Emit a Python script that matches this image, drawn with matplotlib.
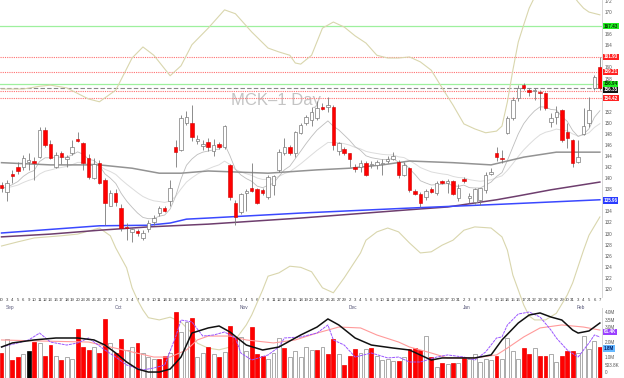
import matplotlib
matplotlib.use("Agg")
import matplotlib.pyplot as plt
import numpy as np
import pandas as pd

# ---------------- data ----------------
day_numbers = [30,
    3,4,5,6,9,10,11,12,13,16,17,18,19,20,23,24,25,26,27,30,
    1,2,3,4,7,8,9,10,11,14,15,16,17,18,21,22,23,24,25,28,29,30,31,
    1,4,5,6,7,8,11,12,13,14,15,18,19,20,21,22,25,26,27,29,
    2,3,4,5,6,9,10,11,12,13,16,17,18,19,20,23,24,26,27,30,31,
    2,3,6,7,8,9,10,13,14,15,16,17,21,22,23,24,27,28,29,30,31,
    3,4,5,6,7]
month_names = ["Sep", "Oct", "Nov", "Dec", "Jan", "Feb"]
month_start_bars = [1, 21, 44, 64, 85, 106]

opens = [138.8,137.5,140.8,142.0,142.0,142.9,143.1,143.8,148.7,146.2,
         142.0,144.5,143.5,144.5,147.1,146.4,143.6,140.0,142.7,139.7,
         135.0,137.3,134.6,131.2,130.3,130.5,129.2,130.8,132.1,133.7,
         134.6,135.9,145.6,145.1,150.0,150.0,146.7,145.8,146.5,144.9,
         146.2,145.6,142.4,135.5,133.9,137.3,138.2,138.0,137.9,136.6,
         138.8,141.5,144.5,145.6,144.5,148.1,150.0,150.5,150.9,152.9,
         152.9,152.9,144.9,145.3,144.5,142.0,142.0,142.7,142.3,142.4,
         142.6,143.1,143.5,142.9,140.6,141.8,137.7,137.2,136.6,138.0,
         137.3,139.5,139.1,139.5,136.4,139.9,136.4,135.7,136.1,137.9,
         140.8,144.5,143.7,148.2,150.9,154.5,156.8,155.9,155.7,155.5,
         155.4,150.2,151.0,152.3,148.3,146.9,142.9,148.0,149.9,156.3,
         160.1]
highs = [139.3,139.6,141.5,142.9,144.2,144.5,143.8,149.2,149.2,146.9,
         144.7,144.9,144.2,146.9,148.3,146.5,144.4,143.6,143.3,140.0,
         137.8,138.1,135.3,131.9,131.2,130.9,130.7,132.5,133.3,135.0,
         134.9,139.6,146.9,151.5,152.2,153.2,147.8,146.9,147.2,147.0,
         146.5,149.6,142.6,136.1,137.4,138.1,142.8,138.3,138.3,140.6,
         140.6,145.3,147.2,146.0,148.5,149.9,151.5,152.9,154.0,153.5,
         154.6,153.2,146.5,145.6,144.6,142.6,143.3,143.1,143.1,143.3,
         143.4,144.0,144.7,143.3,143.0,142.0,138.1,137.5,138.1,138.4,
         139.5,139.7,139.9,139.7,139.0,140.3,137.3,138.2,138.2,141.1,
         141.8,145.7,145.1,151.3,154.6,156.8,157.2,156.3,156.3,155.9,
         155.6,151.8,153.0,152.5,150.0,147.0,146.9,152.7,154.6,158.7,
         161.9]
lows = [137.5,135.8,139.1,140.8,141.5,141.5,139.7,143.6,145.6,143.5,
        141.8,142.6,142.0,144.2,146.5,141.5,139.8,139.9,138.9,131.5,
        134.9,135.0,130.4,128.8,128.5,129.6,128.9,130.3,131.6,133.1,
        133.9,135.0,142.0,144.9,149.6,146.8,146.2,145.1,144.9,144.0,
        145.2,145.2,136.0,131.5,133.5,134.1,137.5,135.3,137.0,136.3,
        136.9,141.1,144.2,144.2,143.8,148.0,149.6,149.5,150.5,152.3,
        152.0,145.1,144.1,144.1,142.0,141.1,141.1,140.4,141.8,141.6,
        140.6,142.8,143.3,140.0,140.4,137.5,137.0,134.8,136.0,137.3,
        137.0,138.9,137.3,137.0,135.9,139.1,135.5,135.4,135.2,137.3,
        140.6,143.1,142.8,147.9,150.5,153.9,156.0,154.9,154.1,152.3,
        152.3,149.2,149.8,146.5,145.5,142.0,142.8,147.8,149.2,155.9,
        155.9]
closes = [138.2,139.1,140.4,141.3,143.6,143.3,142.8,148.7,146.0,143.7,
          144.2,143.8,143.8,145.6,146.7,142.8,140.2,142.5,139.1,135.5,
          137.3,135.7,131.0,131.0,130.8,130.1,130.1,131.9,132.8,134.6,
          134.1,138.2,144.7,150.9,151.0,147.4,147.1,146.2,145.6,146.0,
          145.6,149.4,136.6,133.0,137.1,137.6,137.7,135.5,137.3,140.2,
          140.4,144.7,145.6,144.5,148.3,149.6,151.1,152.0,152.7,152.5,
          153.2,146.0,146.4,144.5,143.5,141.7,142.7,140.6,142.5,142.9,
          142.8,143.5,144.0,140.6,142.4,137.9,137.2,135.5,137.7,137.5,
          139.1,139.1,139.5,137.2,138.2,139.5,136.7,138.0,138.2,140.6,
          141.2,143.8,143.5,150.9,154.1,156.3,156.3,155.6,155.8,155.4,
          152.7,150.9,152.0,146.9,147.3,142.8,143.8,149.4,152.3,158.3,
          156.3]

volumes_m = [1.33,2.24,0.80,1.06,1.20,1.46,2.04,1.97,1.07,1.85,
             1.07,0.80,1.00,0.93,2.90,1.72,1.52,1.72,1.33,3.55,
             1.98,1.33,2.24,1.52,1.72,1.98,1.33,1.00,0.93,0.93,
             1.13,1.33,4.00,2.70,3.36,3.60,1.06,1.33,1.72,1.20,
             1.06,1.37,3.08,2.37,2.37,1.40,3.00,1.20,1.13,0.93,
             1.33,2.30,1.65,1.06,1.40,1.06,1.72,1.52,1.52,1.72,
             1.26,2.24,1.20,0.48,1.13,1.59,1.33,1.59,1.65,1.13,
             0.80,0.93,0.74,0.74,1.06,1.59,1.65,1.52,2.43,1.00,
             0.35,0.61,0.54,0.60,0.61,1.00,0.87,1.26,0.67,0.87,
             0.80,1.13,0.93,2.30,1.40,0.93,1.65,1.26,1.65,1.13,
             1.13,1.20,0.67,1.13,1.46,1.46,1.33,2.43,1.59,2.10,
             1.72]
volume_kind = list("rwrrwkrwrr" "wrwwrrrwrr" "wrrwwrwwwr" "rwrwwrwwrw"
                   "rwrrwwrrrw" "wwrwwwwwrw" "rrwrrrwwrw" "wwwrwrrrwr"
                   "wrwrwrwwww" "wrwwwwrrwr" "rwwrrrwwww" "r")

# indicator readings (bar index, value)
upper_band_bars = [0,4,7,9,12,16,18,21,24,26,28,31,33,35,38,41,43,46,49,51,53,54,55,57,59,61,63,65,67,69,71,73,75,77,79,81,83,85,87,89,91,92,93,94,95,96,97,98,100,103,105,106,107,108,110]
upper_band = [156.1,156.1,156.6,156.8,156.3,154.3,153.8,155.9,161.7,163.7,162.2,158.5,160.3,164.1,167.1,170.4,169.7,166.4,163.5,162.8,162.2,160.8,160.6,162.2,167.1,168.2,167.3,165.7,164.4,162.2,161.7,161.7,161.9,161.0,159.5,156.3,153.2,149.8,148.9,148.2,148.5,149.4,153.8,159.5,164.6,167.7,170.7,172.7,175.4,175.4,173.1,171.8,170.7,170.0,169.5]
lower_band_bars = [0,3,6,11,14,18,20,21,23,24,25,26,27,29,31,33,35,36,38,40,42,45,46,48,49,51,53,55,57,59,61,63,66,67,69,71,73,75,77,79,81,83,85,87,90,92,93,94,95,96,97,98,100,102,104,105,107,108,110]
lower_band = [127.75,128.5,129.2,129.6,129.9,131.0,129.6,127.4,123.8,120.2,118.0,116.2,114.8,114.4,114.9,114.0,112.0,110.2,109.3,109.0,109.5,113.5,115.3,119.8,122.3,122.9,124.1,123.9,123.1,120.2,119.3,122.0,126.5,128.8,130.3,131.0,130.3,128.3,126.5,126.7,127.9,128.8,130.6,131.2,131.0,129.4,127.0,122.5,119.8,117.1,115.1,114.4,114.4,115.6,118.9,121.1,127.0,129.7,133.0]
ma200_bars = [0,18,27,31,34,38,55,75,92,110]
ma200 = [130.1,131.4,131.5,131.9,132.6,132.8,133.7,134.6,135.3,136.1]
ma100_bars = [0,9,18,27,38,55,75,82,91,95,101,110]
ma100 = [129.4,129.9,130.6,131.2,131.7,132.8,134.3,134.8,136.1,136.8,137.9,139.3]
ma50_bars = [0,9,18,24,29,33,38,49,58,64,70,75,83,90,96,102,110]
ma50 = [142.8,142.4,142.4,141.8,140.9,140.9,141.3,140.9,141.5,141.8,142.4,143.1,142.8,142.4,143.8,144.7,144.7]

vol_black_bars = [0,2,6,10,14,17,19,21,23,25,27,29,31,33,35,38,40,42,45,48,51,55,58,60,62,65,68,72,75,79,81,87,90,92,95,97,99,101,103,105,106,108,110]
vol_black = [1.70,1.97,2.17,2.30,2.30,2.17,1.83,1.30,0.70,0.23,0.03,0.03,0.23,1.03,2.63,2.97,3.10,2.70,1.83,1.50,1.70,2.50,3.03,3.57,3.17,2.30,1.83,1.63,1.50,0.83,0.97,0.97,1.17,2.17,3.30,3.83,3.97,3.70,3.50,2.83,2.63,2.77,3.30]
vol_pink_bars = [0,7,16,20,24,28,31,34,36,38,42,45,50,54,58,62,66,69,73,75,79,82,87,91,93,96,99,103,107,110]
vol_pink = [2.17,2.10,2.03,1.70,1.37,1.03,1.03,1.50,2.17,2.43,2.43,2.17,1.97,2.17,2.63,3.03,2.97,2.50,2.03,1.70,1.30,0.97,0.97,1.17,1.63,2.37,2.97,3.17,3.03,2.83]
vol_purple_bars = [0,3,5,7,9,12,14,16,19,21,23,26,28,30,32,33,35,37,39,41,43,44,46,49,51,52,55,58,60,61,63,65,68,71,73,75,77,80,82,85,87,89,91,92,93,95,97,99,101,102,104,106,108,109,110]
vol_purple = [1.70,1.97,2.17,2.63,2.03,1.83,1.97,2.30,1.50,1.03,0.50,0.17,0.30,0.50,2.37,3.50,3.37,2.43,2.50,2.70,2.30,1.30,0.83,1.17,1.70,2.30,2.37,2.63,3.17,2.17,1.83,1.03,1.30,0.97,1.03,0.70,0.70,1.03,1.17,1.03,0.83,1.37,2.30,2.37,3.17,3.90,4.03,3.70,2.83,2.30,1.50,1.03,1.97,2.50,2.37]

level_prices = [167.43, 161.93, 159.21, 156.94, 156.35, 155.70, 154.42]
level_styles = ["green", "red", "red", "green", "last", "red", "red"]
price_ticks = list(range(120, 173, 2))
hidden_price_ticks = [168, 162, 156, 154, 136]   # covered by value tags
vol_ticks = [0, 0.5038, 1.0, 2.0, 3.0, 3.5, 4.0]
vol_tick_labels = ["0", "503.8K", "1.0M", "2.0M", "3.0M", "3.5M", "4.0M"]
title_text = "MCK\u20131 Day"

# ---------------- figure ----------------
W, H = 624, 378
fig = plt.figure(figsize=(W / 100, H / 100), dpi=100)
fig.patch.set_facecolor("white")
plt.rcParams["font.family"] = ["Liberation Sans", "DejaVu Sans"]

def px_axes(x0, y0, x1, y1):
    return fig.add_axes([x0 / W, 1 - y1 / H, (x1 - x0) / W, (y1 - y0) / H])

n = len(closes)
xs = np.arange(n)
xlim = (-0.28, 110.39)

ax = px_axes(0, 0, 602, 297)
ax.set_xlim(*xlim)
ax.set_ylim(118.54, 172.18)
vax = px_axes(0, 308, 602, 378)
vax.set_xlim(*xlim)
vax.set_ylim(-0.367, 4.3)

for a in (ax, vax):
    for s in ("top", "left", "bottom"):
        a.spines[s].set_visible(False)
    a.spines["right"].set_color("#d0d0d0")
    a.spines["right"].set_linewidth(0.6)
    a.yaxis.tick_right()
    a.tick_params(axis="y", length=0, pad=2, labelsize=3.3, labelcolor="#555555")
    a.set_facecolor("none")

ax.set_yticks(price_ticks)
ax.set_yticklabels(["" if t in hidden_price_ticks else str(t) for t in price_ticks])
ax.set_xticks(xs)
ax.set_xticklabels([str(d) for d in day_numbers])
ax.tick_params(axis="x", length=0, pad=1.0, labelsize=3.1, labelcolor="#333333")
for b, m in zip(month_start_bars, month_names):
    ax.text(b + 0.5, -0.028, m, transform=ax.get_xaxis_transform(), ha="center",
            va="top", fontsize=3.4, color="#555577", clip_on=False)

vax.set_xticks([])
vax.set_yticks(vol_ticks)
vax.set_yticklabels(vol_tick_labels)

# title
ax.text(0.383, 0.66, title_text, transform=ax.transAxes, fontsize=12,
        color="#c4c4c4", ha="left", va="center", zorder=1)

# horizontal levels
for p, st in zip(level_prices, level_styles):
    if st == "green":
        ax.axhline(p, color="#9ef09e", lw=0.9, zorder=2)
    elif st == "red":
        ax.axhline(p, color="#ff7070", lw=0.8, ls=(0, (1, 1)), zorder=2)
    else:
        ax.axhline(p, color="#888888", lw=0.8, ls=(0, (4, 2)), zorder=2)

# moving averages
close_s = pd.Series(closes)
ema_fast = close_s.ewm(span=8, adjust=False).mean()
ema_mid = close_s.ewm(span=20, adjust=False).mean()
ax.plot(xs, ema_mid, color="#dcdcdc", lw=0.7, zorder=3)
ax.plot(xs, ema_fast, color="#bdbdbd", lw=0.6, zorder=3)
ax.plot(ma50_bars, ma50, color="#939393", lw=1.1, zorder=3)
ax.plot(ma100_bars, ma100, color="#6e3e6e", lw=1.1, zorder=3)
ax.plot(ma200_bars, ma200, color="#3a48ff", lw=1.1, zorder=3)
ax.plot(upper_band_bars, upper_band, color="#d9d6ad", lw=0.8, zorder=2)
ax.plot(lower_band_bars, lower_band, color="#d9d6ad", lw=0.8, zorder=2, clip_on=False)

# candles
o = np.array(opens); c = np.array(closes); h = np.array(highs); l = np.array(lows)
up = c >= o
ax.vlines(xs, l, h, color="#7a7a7a", lw=0.6, zorder=4)
body_lo = np.minimum(o, c)
body_h = np.maximum(np.abs(c - o), 0.18)
ax.bar(xs[up], body_h[up], bottom=body_lo[up], width=0.64, color="white",
       edgecolor="#7a7a7a", linewidth=0.5, zorder=5)
ax.bar(xs[~up], body_h[~up], bottom=body_lo[~up], width=0.64, color="#ff0000",
       edgecolor="#d00000", linewidth=0.4, zorder=5)

# value tags
def tag(axis, y, text, bg, fg):
    axis.text(1.003, y, text, transform=axis.get_yaxis_transform(), ha="left",
              va="center", fontsize=3.3, color=fg, fontweight="bold", zorder=10,
              clip_on=False,
              bbox=dict(boxstyle="square,pad=0.12", fc=bg, ec="none"))

tag(ax, 167.43, "167.43", "#22ee22", "#003300")
tag(ax, 161.93, "161.93", "#ff2222", "white")
tag(ax, 159.21, "159.21", "#ff2222", "white")
tag(ax, 157.05, "156.94", "#22ee22", "#003300")
tag(ax, 155.95, "156.35", "#111111", "white")
tag(ax, 154.42, "154.42", "#ff2222", "white")
tag(ax, 135.96, "135.96", "#2a3cff", "white")

# volume
vol = np.array(volumes_m)
vbottom = vax.get_ylim()[0]
colors = {"r": "#ff0000", "w": "white", "k": "#000000"}
edges = {"r": "#ee0000", "w": "#8a8a8a", "k": "#000000"}
for i, (v, k) in enumerate(zip(vol, volume_kind)):
    vax.bar(i, v - vbottom, bottom=vbottom, width=0.72, color=colors[k],
            edgecolor=edges[k], linewidth=0.5, zorder=3)
vax.plot(vol_pink_bars, vol_pink, color="#ff9a9a", lw=0.8, zorder=4)
vax.plot(vol_purple_bars, vol_purple, color="#9a55ff", lw=0.7, zorder=4,
         ls=(0, (3, 0.8)))
vax.plot(vol_black_bars, vol_black, color="#111111", lw=1.1, zorder=5)
tag(vax, 2.72, "61.4K", "#9a40ff", "white")
tag(vax, 1.60, "1.8M", "#66b8ff", "#00206a")

fig.savefig("out.png", dpi=100, facecolor="white")
